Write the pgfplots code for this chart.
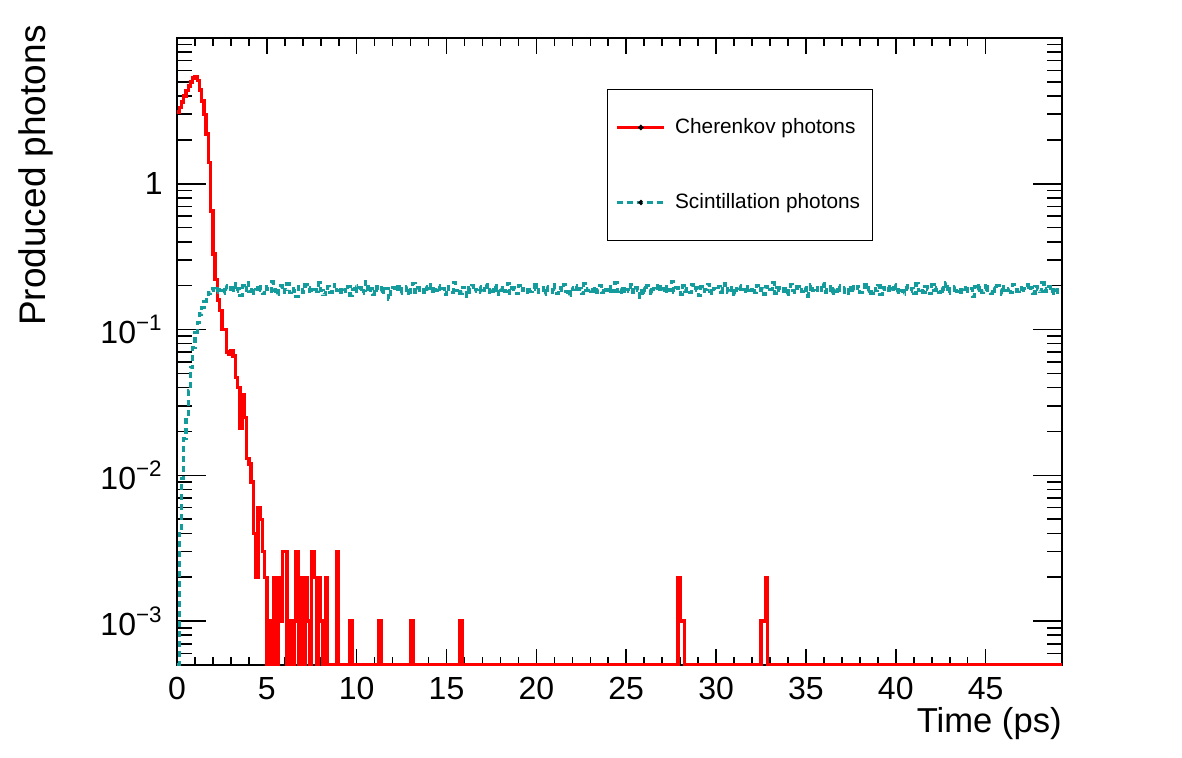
\documentclass[border=0pt]{standalone}
\usepackage{fontspec}
\setmainfont{Liberation Sans}
\usepackage{pgfplots}
\usepackage{pgfplotstable}
\pgfplotsset{compat=1.18}

\definecolor{cherenkov}{RGB}{255,0,0}
\definecolor{scint}{RGB}{20,155,155}

% Scintillation photons per 0.125 ps bin (last row repeats the final bin)
\pgfplotstableread{
v
0.0005
0.004
0.0095
0.018
0.026
0.038
0.055
0.075
0.095
0.112
0.128
0.142
0.155
0.168
0.178
0.186
0.192
0.181
0.197
0.186
0.176
0.201
0.188
0.195
0.179
0.207
0.184
0.190
0.172
0.199
0.186
0.211
0.183
0.194
0.178
0.189
0.203
0.185
0.176
0.196
0.190
0.182
0.212
0.187
0.174
0.193
0.199
0.181
0.188
0.206
0.179
0.191
0.184
0.168
0.197
0.189
0.181
0.202
0.193
0.177
0.188
0.195
0.183
0.209
0.186
0.173
0.192
0.198
0.180
0.190
0.204
0.185
0.176
0.194
0.188
0.182
0.197
0.171
0.189
0.201
0.184
0.193
0.178
0.186
0.214
0.181
0.190
0.175
0.196
0.187
0.183
0.200
0.179
0.192
0.162
0.188
0.194
0.183
0.205
0.177
0.191
0.186
0.198
0.172
0.189
0.208
0.181
0.193
0.185
0.179
0.197
0.190
0.184
0.203
0.176
0.187
0.199
0.182
0.191
0.174
0.196
0.188
0.180
0.210
0.185
0.192
0.178
0.195
0.187
0.169
0.193
0.201
0.183
0.189
0.197
0.180
0.186
0.205
0.179
0.192
0.184
0.199
0.173
0.190
0.187
0.195
0.182
0.207
0.178
0.193
0.188
0.176
0.200
0.185
0.191
0.181
0.196
0.183
0.190
0.211
0.179
0.187
0.194
0.174
0.198
0.185
0.180
0.202
0.189
0.177
0.193
0.186
0.204
0.182
0.171
0.195
0.188
0.199
0.181
0.192
0.176
0.206
0.185
0.190
0.183
0.197
0.174
0.189
0.201
0.180
0.194
0.187
0.178
0.196
0.184
0.209
0.182
0.191
0.175
0.198
0.188
0.184
0.203
0.179
0.193
0.186
0.166
0.195
0.181
0.200
0.189
0.177
0.192
0.185
0.206
0.183
0.190
0.178
0.197
0.186
0.213
0.181
0.194
0.188
0.175
0.199
0.184
0.191
0.179
0.202
0.187
0.193
0.172
0.196
0.183
0.189
0.205
0.184
0.176
0.192
0.187
0.198
0.181
0.190
0.208
0.179
0.186
0.195
0.174
0.191
0.200
0.183
0.188
0.177
0.197
0.185
0.193
0.180
0.201
0.186
0.192
0.175
0.196
0.184
0.189
0.210
0.178
0.194
0.187
0.182
0.199
0.173
0.191
0.204
0.185
0.180
0.197
0.188
0.183
0.195
0.170
0.190
0.202
0.186
0.179
0.193
0.185
0.207
0.181
0.189
0.196
0.176
0.192
0.184
0.199
0.187
0.181
0.194
0.189
0.176
0.203
0.185
0.191
0.198
0.180
0.187
0.212
0.183
0.195
0.178
0.190
0.186
0.201
0.174
0.193
0.188
0.196
0.182
0.190
0.205
0.179
0.194
0.186
0.173
0.199
0.188
0.184
0.192
0.177
0.208
0.185
0.191
0.181
0.197
0.189
0.176
0.203
0.187
0.193
0.180
0.195
0.184
0.210
0.178
0.191
0.186
0.198
0.182
0.175
0.194
0.189
0.201
0.183
0.192
0.168
0.196
0.185
0.199
0.181
0.190
0.206
0.187
0.177
0.194
0.183
0.200
0.189
0.174
0.197
0.186
0.192
0.180
0.204
0.188
0.183
0.195
0.179
0.191
0.202
0.185
0.193
0.176
0.198
0.188
0.182
0.209
0.184
0.190
0.197
0.178
0.194
0.187
0.181
0.181
}\scinttable

\begin{document}
\begin{tikzpicture}
\useasboundingbox (-88.5pt,-46pt) rectangle (502.5pt,332.5pt);
\begin{axis}[
  at={(0pt,0pt)}, anchor=south west,
  scale only axis,
  width=442.5pt, height=313.5pt,
  ymode=log,
  xmin=0, xmax=49.25,
  ymin=5e-4, ymax=10,
  axis line style={line width=1pt},
  tick style={line width=0.8pt, black},
  xtick={0,5,...,45},
  minor x tick num=4,
  xtick style={/pgfplots/major tick length=8pt, /pgfplots/minor tick length=4pt},
  ytick={1e-3,1e-2,1e-1,1},
  yticklabels={10\textsuperscript{−3},10\textsuperscript{−2},10\textsuperscript{−1},1},
  minor ytick={6e-4,7e-4,8e-4,9e-4,
               2e-3,3e-3,4e-3,5e-3,6e-3,7e-3,8e-3,9e-3,
               2e-2,3e-2,4e-2,5e-2,6e-2,7e-2,8e-2,9e-2,
               0.2,0.3,0.4,0.5,0.6,0.7,0.8,0.9,
               2,3,4,5,6,7,8,9},
  ytick style={/pgfplots/major tick length=14.5pt, /pgfplots/minor tick length=7.3pt},
  /pgf/number format/assume math mode=true,
  ticklabel style={font=\fontsize{16pt}{18pt}\selectfont},
  xticklabel style={inner sep=0pt, yshift=-6pt},
  yticklabel style={inner sep=0pt, xshift=-7pt},
  xlabel={Time (ps)},
  ylabel={Produced photons},
  xlabel style={at={(rel axis cs:1,-0.067)}, anchor=north east, inner sep=0pt,
                font=\fontsize{17.3pt}{20pt}\selectfont},
  ylabel style={at={(rel axis cs:-0.1400,1.0207)}, anchor=south east, inner sep=0pt,
                font=\fontsize{18.5pt}{21pt}\selectfont},
  legend style={at={(0.486,0.919)}, anchor=north west, draw=black, line width=0.6pt,
                fill=white, inner xsep=4pt, inner ysep=12.5pt, row sep=24.5pt,
                font=\fontsize{10.4pt}{12pt}\selectfont},
  legend cell align=left,
  legend image code/.code={
    \draw[#1] (0pt,0pt) -- (23.5pt,0pt);
    \fill[black] (11.75pt,0pt) circle (0.3pt);
    \path (26pt,0pt);
  },
]
\addplot[const plot mark left, draw=cherenkov, line width=1.7pt] coordinates {
(0,3.1) (0.125,3.35) (0.25,3.65) (0.375,4.0) (0.5,4.35) (0.625,4.7)
(0.75,5.0) (0.875,5.3) (1.0,5.45) (1.125,5.1) (1.25,4.4) (1.375,3.7)
(1.5,3.0) (1.625,2.2) (1.75,1.4) (1.875,0.65) (2.0,0.33) (2.125,0.22)
(2.25,0.16) (2.375,0.135) (2.5,0.1) (2.625,0.1) (2.75,0.07) (2.875,0.068)
(3.0,0.072) (3.125,0.066) (3.25,0.047) (3.375,0.040) (3.5,0.021) (3.625,0.036)
(3.75,0.025) (3.875,0.013) (4.0,0.012) (4.125,0.009) (4.25,0.004) (4.375,0.002)
(4.5,0.006) (4.625,0.005) (4.75,0.003) (4.875,0.002) (5.0,0.0005) (5.125,0.001)
(5.25,0.0005) (5.375,0.002) (5.5,0.0005) (5.625,0.002) (5.75,0.001) (5.875,0.003)
(6.0,0.003) (6.125,0.0005) (6.25,0.001) (6.375,0.0005) (6.5,0.001) (6.625,0.003)
(6.75,0.0005) (6.875,0.002) (7.0,0.0005) (7.125,0.002) (7.25,0.001) (7.375,0.0005)
(7.5,0.003) (7.625,0.002) (7.75,0.0005) (7.875,0.002) (8.0,0.001) (8.125,0.0005)
(8.25,0.002) (8.375,0.0005) (8.875,0.003) (9.0,0.0005) (9.625,0.001) (9.75,0.0005)
(11.25,0.001) (11.375,0.0005) (13.0,0.001) (13.125,0.0005) (15.75,0.001) (15.875,0.0005)
(27.875,0.002) (28.0,0.001) (28.25,0.0005) (32.5,0.001) (32.75,0.002) (32.875,0.0005)
(49.25,0.0005)
};
\addlegendentry{Cherenkov photons}
\addplot[const plot mark left, draw=scint, line width=1.6pt, dash pattern=on 3pt off 2pt]
  table[x expr=\coordindex*0.125, y=v] {\scinttable};
\addlegendentry{Scintillation photons}
\end{axis}
\end{tikzpicture}
\end{document}
